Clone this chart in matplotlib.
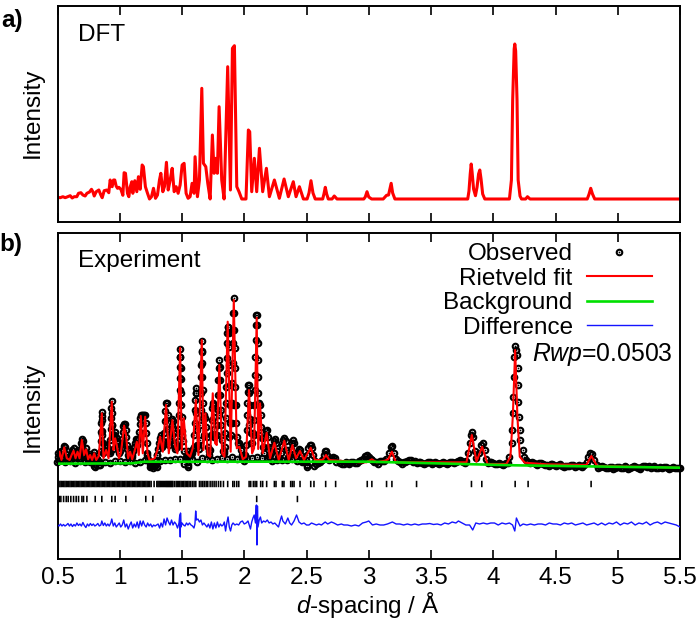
import numpy as np
import matplotlib
matplotlib.use("Agg")
import matplotlib.pyplot as plt
from matplotlib.legend_handler import HandlerTuple

plt.rcParams["font.family"] = ["Liberation Sans", "DejaVu Sans"]
plt.rcParams["mathtext.fontset"] = "custom"
plt.rcParams["mathtext.rm"] = "Liberation Sans"
plt.rcParams["mathtext.it"] = "Liberation Sans:italic"

tick_pos = [0.5, 1, 1.5, 2, 2.5, 3, 3.5, 4, 4.5, 5, 5.5]
tick_labels = ["0.5", "1", "1.5", "2", "2.5", "3", "3.5", "4", "4.5", "5", "5.5"]

# DFT pattern, read off panel a)
dft_d = [0.500, 0.522, 0.543, 0.562, 0.581, 0.602, 0.618, 0.634, 0.655, 0.669,
         0.688, 0.704, 0.722, 0.736, 0.757, 0.773, 0.784, 0.795, 0.811, 0.832,
         0.848, 0.859, 0.875, 0.896, 0.912, 0.923, 0.939, 0.950, 0.960, 0.971,
         0.982, 0.993, 1.009, 1.025, 1.035, 1.046, 1.062, 1.073, 1.083, 1.097,
         1.105, 1.121, 1.137, 1.150, 1.164, 1.180, 1.190, 1.206, 1.223, 1.239,
         1.255, 1.271, 1.287, 1.303, 1.319, 1.330, 1.346, 1.359, 1.375, 1.389,
         1.405, 1.421, 1.437, 1.453, 1.469, 1.485, 1.501, 1.517, 1.533, 1.549,
         1.565, 1.581, 1.597, 1.605, 1.624, 1.640, 1.659, 1.672, 1.691, 1.707,
         1.726, 1.744, 1.758, 1.771, 1.784, 1.798, 1.819, 1.838, 1.867, 1.889,
         1.905, 1.921, 1.940, 1.958, 1.980, 2.014, 2.033, 2.044, 2.060, 2.081,
         2.100, 2.122, 2.148, 2.178, 2.202, 2.242, 2.282, 2.320, 2.354, 2.394,
         2.416, 2.443, 2.475, 2.505, 2.520, 2.536, 2.552, 2.570, 2.630, 2.640,
         2.651, 2.662, 2.675, 2.705, 2.723, 2.745, 2.960, 2.972, 2.986, 3.000,
         3.023, 3.116, 3.143, 3.159, 3.170, 3.180, 3.192, 3.210, 3.795, 3.805,
         3.815, 3.823, 3.830, 3.842, 3.857, 3.870, 3.882, 3.892, 3.902, 3.915,
         3.932, 4.130, 4.146, 4.156, 4.168, 4.173, 4.180, 4.191, 4.200, 4.215,
         4.227, 4.260, 4.275, 4.295, 4.755, 4.770, 4.783, 4.797, 4.815, 5.500]
dft_i = [1.7, 1.3, 2.3, 1.3, 2.3, 3.3, 1.0, 2.3, 2.3, 5.7,
         6.3, 4.0, 3.0, 5.7, 7.0, 9.7, 7.3, 3.0, 7.3, 9.0,
         4.0, 1.3, 8.3, 9.0, 6.3, 19.0, 12.3, 19.0, 19.0, 13.0,
         10.7, 11.7, 9.7, 3.7, 26.3, 25.7, 5.7, 2.3, 11.7, 17.3,
         5.7, 18.3, 7.3, 22.3, 9.7, 34.0, 32.3, 12.3, 5.7, 0.0,
         2.3, 10.7, 0.7, 4.0, 19.0, 25.7, 7.3, 12.3, 36.7, 9.0,
         19.0, 30.7, 7.3, 12.3, 5.7, 14.0, 34.0, 35.7, 5.7, 0.7,
         2.3, 15.7, 5.7, 42.3, 2.3, 19.0, 110.7, 35.7, 32.3, 15.7,
         0.0, 64.0, 25.7, 40.7, 25.7, 92.3, 19.0, 0.0, 132.3, 9.0,
         150.7, 153.3, 12.3, 7.3, 0.0, 0.0, 69.0, 67.3, 7.3, 40.7,
         7.3, 50.7, 7.3, 30.7, 2.3, 19.0, 0.7, 20.0, 2.3, 17.3,
         2.3, 12.3, 0.0, 0.0, 6.0, 18.3, 6.0, 0.0, 0.0, 5.0,
         11.7, 5.0, 0.0, 0.0, 3.0, 0.0, 0.0, 2.0, 7.3, 2.0,
         0.0, 0.0, 3.7, 4.0, 10.0, 15.7, 6.0, 0.0, 0.0, 8.0,
         25.0, 35.0, 27.0, 10.0, 3.3, 12.0, 25.0, 29.0, 20.0, 5.0,
         0.0, 0.0, 19.0, 99.0, 150.0, 155.0, 148.0, 99.0, 19.0, 3.0,
         0.0, 0.0, 2.3, 0.0, 0.0, 5.0, 10.7, 5.0, 0.0, 0.0]

# Rietveld fit, read off panel b)
fit_d = [0.500, 0.516, 0.532, 0.554, 0.575, 0.597, 0.613, 0.629, 0.645, 0.661,
         0.677, 0.696, 0.714, 0.730, 0.746, 0.762, 0.778, 0.795, 0.811, 0.832,
         0.856, 0.869, 0.891, 0.910, 0.936, 0.950, 0.963, 0.976, 0.993, 1.009,
         1.035, 1.051, 1.067, 1.083, 1.100, 1.121, 1.137, 1.153, 1.169, 1.185,
         1.204, 1.223, 1.239, 1.260, 1.281, 1.303, 1.324, 1.346, 1.372, 1.394,
         1.423, 1.445, 1.463, 1.485, 1.498, 1.514, 1.538, 1.565, 1.586, 1.611,
         1.632, 1.659, 1.672, 1.688, 1.707, 1.726, 1.747, 1.766, 1.779, 1.800,
         1.822, 1.841, 1.867, 1.891, 1.916, 1.940, 1.961, 1.988, 2.015, 2.038,
         2.063, 2.079, 2.100, 2.112, 2.127, 2.148, 2.180, 2.207, 2.242, 2.277,
         2.322, 2.357, 2.387, 2.416, 2.448, 2.480, 2.534, 2.568, 2.630, 2.657,
         2.683, 2.929, 2.983, 3.025, 3.063, 3.130, 3.156, 3.186, 3.218, 3.785,
         3.828, 3.865, 3.911, 3.954, 4.106, 4.138, 4.157, 4.176, 4.194, 4.213,
         4.253, 4.427, 4.748, 4.788, 4.834, 5.500]
fit_i = [5.0, 13.3, 5.0, 17.7, 6.7, 5.0, 10.0, 14.3, 6.7, 13.3,
         6.7, 25.0, 10.0, 15.7, 5.7, 10.0, 5.0, 11.7, 5.0, 9.0,
         51.7, 6.7, 15.0, 6.7, 63.3, 15.0, 26.7, 20.0, 6.7, 11.7,
         39.3, 30.0, 6.7, 13.3, 5.7, 15.0, 23.3, 10.0, 49.0, 11.7,
         48.3, 11.7, 5.0, 5.7, 6.7, 15.0, 28.3, 13.3, 60.0, 11.7,
         45.0, 18.3, 11.7, 117.3, 15.0, 46.7, 11.7, 8.3, 16.7, 65.0,
         10.0, 125.0, 15.0, 51.7, 10.0, 8.3, 71.7, 21.7, 20.0, 100.0,
         11.7, 8.3, 143.3, 13.3, 165.0, 16.7, 18.3, 5.7, 8.3, 75.0,
         11.7, 16.7, 147.3, 16.0, 61.7, 11.7, 32.3, 6.7, 22.3, 5.0,
         24.3, 5.0, 20.0, 6.7, 14.0, 5.0, 17.3, 5.0, 5.0, 10.0,
         5.0, 2.7, 2.7, 5.7, 2.7, 4.3, 5.7, 13.3, 2.7, 2.7,
         30.0, 3.3, 18.3, 1.0, 1.0, 8.3, 48.3, 115.0, 48.3, 8.3,
         2.3, 0.7, 0.0, 9.0, -1.0, -2.7]

# background
bg_d = [0.5, 1.1, 1.2, 3.0, 4.17, 5.5]
bg_i = [1.3, 1.7, 3.3, 3.3, -0.3, -2.7]

# observed points, split by region
obs_d_low = [0.498, 0.503, 0.507, 0.512, 0.518, 0.525, 0.532, 0.540, 0.548, 0.554,
             0.560, 0.568, 0.575, 0.585, 0.597, 0.606, 0.613, 0.620, 0.629, 0.637,
             0.645, 0.653, 0.661, 0.669, 0.677, 0.684, 0.690, 0.696, 0.702, 0.708,
             0.716, 0.724, 0.730, 0.738, 0.746, 0.754, 0.762, 0.770, 0.778, 0.786,
             0.795, 0.803, 0.811, 0.820, 0.828, 0.836, 0.844,
             0.846, 0.848, 0.850, 0.852, 0.854, 0.856, 0.858, 0.860, 0.862, 0.864,
             0.870, 0.880, 0.890, 0.900, 0.910, 0.918,
             0.920, 0.924, 0.927, 0.930, 0.933, 0.936, 0.939, 0.941, 0.943, 0.946,
             0.950, 0.957, 0.965, 0.972, 0.980, 0.988, 0.996, 1.004, 1.012, 1.018]
obs_i_low = [3, 8, 12, 4, 11, 14, 7, 6, 14, 19,
             18, 11, 7, 6, 5, 8, 12, 15, 17, 10,
             8, 12, 15, 9, 7, 14, 22, 26, 24, 15,
             9, 13, 17, 8, 5, 9, 11, 7, 5, 10,
             13, 7, 5, 6, 4, 0, 3,
             14, 24, 33, 42, 49, 53, 45, 34, 22, 12,
             14, 18, 20, 18, 14, 12,
             14, 25, 36, 47, 57, 64, 52, 40, 28, 16,
             30, 30, 33, 28, 24, 18, 12, 14, 20, 26]

obs_d_mid = [1.024, 1.030, 1.036, 1.042, 1.048, 1.054, 1.060, 1.068, 1.076, 1.084,
             1.092, 1.100, 1.108, 1.116, 1.124, 1.132, 1.140, 1.148, 1.155, 1.160,
             1.165, 1.170, 1.178, 1.186, 1.194, 1.202, 1.208, 1.212, 1.216, 1.222,
             1.230, 1.240, 1.250, 1.262, 1.275, 1.288, 1.296, 1.304, 1.312, 1.320,
             1.328, 1.336, 1.344, 1.350, 1.356, 1.362, 1.367, 1.372, 1.378, 1.384,
             1.388, 1.392, 1.398, 1.404, 1.410, 1.416, 1.421, 1.427, 1.432, 1.437,
             1.443, 1.450, 1.458, 1.465, 1.470,
             1.476, 1.478, 1.480, 1.481, 1.482, 1.483, 1.485, 1.487, 1.489, 1.490,
             1.491, 1.493, 1.496, 1.500, 1.510, 1.520, 1.530, 1.540, 1.550, 1.560,
             1.570, 1.580, 1.590,
             1.596, 1.600, 1.603, 1.605, 1.607, 1.609, 1.610, 1.613, 1.616, 1.620,
             1.625, 1.635]
obs_i_mid = [33, 39, 41, 41, 35, 28, 20, 10, 8, 15,
             12, 8, 14, 18, 22, 26, 25, 26, 33, 41,
             47, 50, 50, 50, 50, 50, 42, 32, 22, 12,
             6, 1, -1, 0, -1, 4, 10, 16, 22, 27,
             30, 22, 20, 24, 32, 44, 54, 62, 62, 50,
             36, 25, 20, 24, 32, 40, 46, 44, 32, 20,
             16, 18, 20, 24, 36,
             50, 62, 75, 87, 98, 108, 116, 108, 97, 86,
             72, 60, 48, 34, 24, 14, 8, 10, 14, 10,
             10, 14, 16,
             18, 30, 42, 55, 65, 72, 77, 72, 52, 35,
             20, 16]

obs_d_top = [1.645, 1.648, 1.650, 1.651, 1.653, 1.655, 1.657, 1.659, 1.661, 1.663,
             1.664, 1.666, 1.668, 1.672, 1.680, 1.687, 1.692, 1.698, 1.705, 1.715,
             1.728, 1.733, 1.737, 1.741, 1.745, 1.750, 1.755, 1.760, 1.768, 1.778,
             1.783, 1.787, 1.790, 1.793, 1.796, 1.799, 1.802, 1.805, 1.807, 1.810,
             1.814, 1.820, 1.828, 1.838,
             1.845, 1.849, 1.852, 1.854, 1.856, 1.858, 1.860, 1.862, 1.864, 1.867,
             1.872, 1.875, 1.878, 1.880, 1.882, 1.884, 1.887, 1.893, 1.900, 1.903,
             1.905, 1.907, 1.909, 1.911, 1.913, 1.916, 1.919, 1.921, 1.923, 1.925,
             1.927, 1.930, 1.933, 1.938, 1.948, 1.958, 1.970, 1.980, 1.990, 2.000,
             2.010, 2.018]
obs_i_top = [25, 40, 55, 72, 88, 100, 113, 124, 114, 102,
             88, 75, 62, 47, 50, 47, 38, 28, 18, 14,
             15, 30, 45, 57, 62, 60, 48, 36, 30, 30,
             40, 55, 70, 85, 97, 105, 98, 85, 70, 55,
             40, 25, 14, 14,
             18, 32, 47, 62, 78, 92, 107, 122, 132, 138,
             138, 132, 118, 100, 80, 60, 42, 30, 42, 62,
             82, 102, 122, 135, 152, 167, 152, 135, 117, 97,
             78, 60, 42, 28, 22, 22, 15, 10, 7, 7,
             10, 20]

obs_d_tail = [2.020, 2.023, 2.026, 2.029, 2.033, 2.038, 2.042, 2.045, 2.048, 2.052,
              2.058, 2.064, 2.070, 2.076, 2.080, 2.083, 2.086, 2.089, 2.092, 2.095,
              2.098, 2.102, 2.105, 2.107, 2.109, 2.111, 2.114, 2.118, 2.125, 2.131,
              2.136, 2.141, 2.147, 2.160, 2.168, 2.175, 2.182, 2.190, 2.198, 2.206,
              2.215, 2.225, 2.235, 2.243, 2.252, 2.262, 2.272, 2.282, 2.292, 2.302,
              2.312, 2.322, 2.332, 2.342, 2.352, 2.362, 2.372, 2.380, 2.388, 2.396,
              2.406, 2.416, 2.428, 2.438, 2.448, 2.458, 2.470, 2.482, 2.494, 2.506,
              2.516, 2.526, 2.536, 2.546, 2.556, 2.566, 2.580, 2.595, 2.610, 2.625,
              2.638, 2.648, 2.658, 2.668, 2.680, 2.695, 2.710, 2.725, 2.740, 2.770]
obs_i_tail = [35, 50, 62, 73, 80, 80, 72, 60, 46, 32,
              22, 22, 32, 45, 60, 75, 90, 108, 125, 140,
              150, 150, 140, 122, 105, 88, 72, 62, 60, 50,
              38, 27, 18, 18, 28, 34, 35, 28, 18, 10,
              12, 18, 24, 26, 22, 14, 8, 7, 12, 19,
              25, 27, 24, 15, 8, 9, 16, 22, 25, 22,
              12, 9, 13, 16, 15, 10, 5, 3, 5, 10,
              17, 20, 20, 17, 10, 4, 1, 2, 3, 5,
              10, 14, 14, 10, 5, 7, 8, 7, 3, 2]

obs_d_high = [2.80, 2.83, 2.86, 2.89, 2.92, 2.95, 2.97, 2.985, 3.00, 3.03,
              3.06, 3.09, 3.12, 3.14, 3.16, 3.175, 3.19, 3.205, 3.22, 3.25,
              3.28, 3.31, 3.34, 3.37, 3.40, 3.43, 3.46, 3.49, 3.52, 3.55,
              3.58, 3.61, 3.64, 3.67, 3.70, 3.73, 3.76, 3.785, 3.80, 3.81,
              3.82, 3.83, 3.84, 3.85, 3.865, 3.885, 3.90, 3.915, 3.93, 3.945,
              3.97, 4.00, 4.03, 4.06, 4.09, 4.115, 4.13,
              4.149, 4.154, 4.160, 4.160, 4.165, 4.168, 4.176, 4.181, 4.194, 4.200,
              4.197, 4.200, 4.210, 4.213, 4.218, 4.235, 4.25, 4.28, 4.31, 4.34,
              4.37, 4.40, 4.43, 4.46, 4.49, 4.52, 4.55, 4.58, 4.61, 4.64,
              4.67, 4.70, 4.73, 4.75, 4.765, 4.78, 4.795, 4.81, 4.83, 4.86,
              4.89, 4.92, 4.95, 4.98, 5.01, 5.04, 5.07, 5.10, 5.13, 5.16,
              5.19, 5.22, 5.25, 5.28, 5.31, 5.34, 5.37, 5.40, 5.43, 5.46,
              5.49, 5.50]
obs_i_high = [1, 2, 3, 2, 4, 6, 9, 10, 8, 5,
              3, 4, 4, 6, 12, 18, 19, 12, 6, 3,
              3, 4, 5, 4, 3, 2, 2, 3, 2, 2,
              2, 2, 2, 3, 3, 5, 3, 4, 12, 22,
              30, 33, 28, 14, 7, 12, 20, 22, 15, 6,
              3, 2, 1, 1, 1, 2, 8,
              22, 35, 52, 68, 88, 108, 119, 115, 110, 97,
              80, 63, 48, 35, 25, 15, 8, 3, 3, 1,
              2, 1, 0, 1, 0, 0, -1, -1, -1, 0,
              -1, -1, 0, 3, 8, 12, 11, 5, 0, -2,
              -2, -3, -2, -3, -2, -3, -2, -3, -1, -3,
              -2, -1, -1, -2, -3, -2, -2, -3, -3, -3,
              -3, -3]

# lower rows of points that fill the band between the peaks
obs_d_base = [0.56, 0.60, 0.64, 0.68, 0.72, 0.76, 0.80, 0.84, 0.88, 0.92,
              0.96, 1.00, 1.04, 1.08, 1.12, 1.16, 1.20, 1.24, 1.28, 1.32,
              1.36, 1.40, 1.44, 1.48, 1.52, 1.55, 1.58, 1.62, 1.66, 1.70,
              1.74, 1.78, 1.82, 1.86, 1.90, 1.94, 1.98, 2.02, 2.06, 2.10,
              2.14, 2.18, 2.22, 2.26, 2.30, 2.34, 2.38, 2.42, 2.46, 2.50]
obs_i_base = [3, 4, 2, 4, 3, 3, 1, 0, 3, 2,
              4, 4, 3, 4, 2, 3, 5, 3, -1, 4,
              5, 5, 6, 6, 1, 0, 6, 3, 7, 6,
              5, 6, 7, 6, 8, 6, 7, 7, 7, 8,
              7, 7, 4, 5, 5, 5, 6, 4, 3, 0]

obs_d_fill = [0.58, 0.62, 0.66, 0.70, 0.74, 0.78, 0.82, 0.86, 0.90, 0.94,
              0.98, 1.02, 1.06, 1.10, 1.14, 1.18, 1.22, 1.26, 1.30, 1.34,
              1.38, 1.42, 1.46, 1.50, 1.54, 1.58, 1.62, 1.68, 1.72, 1.76,
              1.80, 1.84, 1.88, 1.92, 1.96, 2.00, 2.04, 2.08, 2.12, 2.16,
              2.20, 0.79, 0.80, 1.24, 1.27, 1.30, 1.55, 2.50, 2.56]
obs_i_fill = [8, 12, 9, 20, 8, 7, 6, 30, 14, 40,
              22, 22, 16, 10, 20, 32, 10, 2, 10, 18,
              36, 30, 18, 30, 8, 12, 20, 30, 10, 28,
              50, 12, 28, 60, 20, 4, 40, 30, 30, 12,
              8, -1, -2, -2, -3, -2, -2, -2, -1]

obs_d_band = [2.785, 2.815, 2.845, 2.875, 2.905, 2.935, 3.015, 3.045, 3.075, 3.105,
              3.235, 3.265, 3.295, 3.325, 3.355, 3.385, 3.415, 3.445, 3.475, 3.505,
              3.535, 3.565, 3.595, 3.625, 3.655, 3.685, 3.715, 3.745, 3.775, 3.955,
              3.985, 4.015, 4.045, 4.075, 4.105, 4.265, 4.295, 4.325, 4.355, 4.385,
              4.415, 4.445, 4.475, 4.505, 4.535, 4.565, 4.595, 4.625, 4.655, 4.685,
              4.715, 4.845, 4.875, 4.905, 4.935, 4.965, 4.995, 5.025, 5.055, 5.085,
              5.115, 5.145, 5.175, 5.205, 5.235, 5.265, 5.295, 5.325, 5.355, 5.385,
              5.415, 5.445, 5.475]
obs_i_band = [1, 3, 1, 3, 2, 5, 6, 3, 1, 4,
              4, 1, 3, 5, 3, 2, 3, 1, 3, 1,
              3, 1, 3, 1, 3, 2, 4, 4, 2, 2,
              3, 1, 2, 0, 2, 5, 2, 2, 0, 2,
              0, -1, 1, -1, 1, -2, -1, 0, -2, 0,
              -2, -3, -1, -3, -2, -4, -2, -3, -1, -4,
              -2, -2, -4, -1, -2, -3, -1, -3, -3, -2,
              -4, -2, -3]

# difference curve, with its plot offset
diff_d = [0.500, 0.512, 0.524, 0.536, 0.548, 0.560, 0.572, 0.584, 0.596, 0.608,
          0.620, 0.632, 0.644, 0.656, 0.668, 0.680, 0.692, 0.704, 0.716, 0.728,
          0.740, 0.752, 0.764, 0.776, 0.788, 0.800, 0.812, 0.824, 0.836, 0.848,
          0.856, 0.868, 0.880, 0.892, 0.904, 0.916, 0.928, 0.936, 0.948, 0.960,
          0.972, 0.984, 0.996, 1.008, 1.020, 1.032, 1.044, 1.056, 1.068, 1.080,
          1.092, 1.104, 1.116, 1.128, 1.140, 1.152, 1.164, 1.176, 1.188, 1.200,
          1.212, 1.224, 1.236, 1.248, 1.260, 1.272, 1.284, 1.296, 1.308, 1.320,
          1.332, 1.344, 1.356, 1.368, 1.380, 1.392, 1.404, 1.416, 1.428, 1.440,
          1.452, 1.464, 1.476, 1.482, 1.486, 1.488, 1.492, 1.500, 1.512, 1.524,
          1.536, 1.548, 1.560, 1.572, 1.584, 1.596, 1.604, 1.610, 1.616, 1.628,
          1.640, 1.652, 1.664, 1.676, 1.688, 1.700, 1.712, 1.724, 1.736, 1.748,
          1.760, 1.772, 1.784, 1.796, 1.808, 1.820, 1.830, 1.840, 1.850, 1.860,
          1.870, 1.880, 1.890, 1.900, 1.910, 1.925, 1.940, 1.955, 1.970, 1.985,
          2.000, 2.015, 2.030, 2.040, 2.050, 2.060, 2.070, 2.080, 2.090, 2.095,
          2.098, 2.102, 2.106, 2.110, 2.120, 2.130, 2.140, 2.155, 2.170, 2.185,
          2.200, 2.215, 2.230, 2.245, 2.260, 2.275, 2.290, 2.300, 2.310, 2.330,
          2.350, 2.365, 2.380, 2.400, 2.420, 2.440, 2.460, 2.480, 2.500, 2.520,
          2.540, 2.560, 2.580, 2.600, 2.620, 2.650, 2.670, 2.700, 2.720, 2.750,
          2.780, 2.800, 2.830, 2.860, 2.890, 2.920, 2.950, 2.980, 3.000, 3.030,
          3.060, 3.090, 3.120, 3.150, 3.190, 3.220, 3.250, 3.280, 3.310, 3.340,
          3.370, 3.400, 3.430, 3.460, 3.490, 3.520, 3.550, 3.580, 3.610, 3.640,
          3.670, 3.700, 3.720, 3.750, 3.780, 3.810, 3.835, 3.860, 3.890, 3.920,
          3.950, 3.980, 4.010, 4.040, 4.070, 4.100, 4.130, 4.155, 4.173, 4.186,
          4.200, 4.215, 4.240, 4.270, 4.300, 4.330, 4.360, 4.390, 4.420, 4.450,
          4.480, 4.510, 4.540, 4.570, 4.600, 4.630, 4.660, 4.690, 4.720, 4.750,
          4.780, 4.810, 4.840, 4.870, 4.900, 4.930, 4.960, 4.990, 5.020, 5.050,
          5.080, 5.110, 5.140, 5.170, 5.200, 5.230, 5.260, 5.290, 5.320, 5.350,
          5.380, 5.410, 5.440, 5.470, 5.500]
diff_i = [-60, -61, -59, -61, -59.5, -61, -60, -58.5, -61, -59,
          -61.5, -59.5, -61, -58, -60.5, -59, -61, -57.5, -60.5, -62.5,
          -59, -61, -58.5, -60.5, -59, -61, -60, -58.5, -61, -60,
          -56, -60.5, -58, -61, -59, -61, -58, -54, -61, -58,
          -62, -60, -58, -62, -60, -55, -62, -59, -64, -60,
          -57, -63, -59, -62, -57, -63, -56, -61, -56, -60,
          -62, -58, -61, -59, -62, -60, -61, -60, -59, -63,
          -58, -62, -54, -60, -53, -57, -60, -55, -60, -57,
          -59, -63, -58, -50, -72, -48, -62, -58, -60, -61,
          -58, -60, -58, -60, -61, -63, -59, -46, -55, -54,
          -57, -55, -60, -58, -60, -62, -59, -63, -57, -64,
          -58, -63, -57, -62, -59, -61, -60, -57, -66, -58,
          -52, -62, -66, -60, -58, -60, -59, -60, -57, -56,
          -59, -58, -56, -60, -64, -57, -53, -50, -58, -41,
          -40, -80, -41, -62, -55, -52, -58, -56, -57, -55,
          -58, -57, -59, -58, -60, -62, -55, -51, -56, -59,
          -53, -58, -60, -56, -50, -57, -59, -58, -60, -60,
          -58, -59, -60, -59, -60, -57, -59, -57, -58, -60,
          -59, -60, -60, -61, -60, -61, -58, -57, -56, -60,
          -59, -60, -60, -59, -57, -59, -59, -60, -59, -60,
          -59, -60, -59, -59, -58.5, -59.5, -59, -60, -58, -59,
          -57, -58, -56, -58, -60, -60, -65, -58, -59, -58,
          -59, -58, -58, -60, -58, -59, -58, -60, -66, -53,
          -57, -61, -59, -60, -59, -60, -59, -59, -60, -58,
          -59, -59, -60, -58, -59, -58, -60, -59, -58, -60,
          -59, -58, -60, -58, -60, -58, -59, -57, -60, -58,
          -59, -57, -60, -58, -59, -57, -60, -58, -57, -59,
          -57, -58, -59, -60, -62]

# reflection markers, two phases
phase1_d = [0.50, 0.51, 0.52, 0.53, 0.54, 0.55, 0.56, 0.57, 0.58, 0.59,
            0.60, 0.61, 0.62, 0.63, 0.64, 0.65, 0.66, 0.67, 0.68, 0.69,
            0.70, 0.71, 0.72, 0.73, 0.74, 0.75, 0.76, 0.77, 0.78, 0.79,
            0.80, 0.81, 0.82, 0.83, 0.84, 0.85, 0.86, 0.87, 0.88, 0.89,
            0.90, 0.91, 0.92, 0.93, 0.94, 0.95, 0.96, 0.97, 0.98, 0.99,
            1.00, 1.01, 1.02, 1.03, 1.04, 1.05, 1.06, 1.07, 1.08, 1.09,
            1.10, 1.11, 1.12, 1.13, 1.14, 1.15, 1.16, 1.17, 1.18, 1.19,
            1.20, 1.21, 1.22, 1.23, 1.24,
            1.252, 1.276, 1.298, 1.307, 1.316, 1.325, 1.334, 1.343, 1.352, 1.361,
            1.370, 1.378, 1.386, 1.394, 1.402, 1.410, 1.418, 1.426, 1.439, 1.453,
            1.463, 1.472, 1.482, 1.493, 1.504, 1.514, 1.525, 1.536, 1.546, 1.557,
            1.570, 1.584, 1.597, 1.611, 1.640, 1.653, 1.667, 1.680, 1.694, 1.707,
            1.726, 1.742, 1.758, 1.774, 1.793, 1.811, 1.833, 1.867, 1.908, 1.921,
            1.940, 1.956, 2.039, 2.052, 2.073, 2.087, 2.100, 2.132, 2.148, 2.180,
            2.242, 2.255, 2.306, 2.319, 2.373, 2.386, 2.400, 2.448, 2.534, 2.560,
            2.654, 2.734, 2.988, 3.025, 3.143, 3.186, 3.384, 3.825, 3.908, 4.176,
            4.280, 4.786]
phase2_d = [0.500, 0.508, 0.515, 0.527, 0.549, 0.570, 0.586, 0.607, 0.629, 0.650,
            0.669, 0.696, 0.709, 0.736, 0.803, 0.856, 0.936, 0.963, 1.049, 1.209,
            1.266, 1.485, 2.100, 2.427]
phase1_row = -19
phase2_row = -34

obs_d = np.concatenate([obs_d_low, obs_d_mid, obs_d_top, obs_d_tail, obs_d_high,
                        obs_d_base, obs_d_fill, obs_d_band])
obs_i = np.concatenate([obs_i_low, obs_i_mid, obs_i_top, obs_i_tail, obs_i_high,
                        obs_i_base, obs_i_fill, obs_i_band])

W, H = 700, 622
fig = plt.figure(figsize=(W / 100, H / 100), dpi=100)
ax_a = fig.add_axes([57.5 / W, 1 - 222 / H, 622.5 / W, 216 / H])
ax_b = fig.add_axes([57.5 / W, 1 - 559 / H, 622.5 / W, 326 / H])

FS = 17.5

# panel a
ax_a.plot(dft_d, dft_i, color="#ff0000", lw=2.2, solid_joinstyle="round")
ax_a.set_ylim(-23, 193)

# panel b
ring, = ax_b.plot(obs_d, obs_i, ls="none", marker="o", ms=4.0, mfc="none", mec="black", mew=1.5,
                  zorder=1, clip_on=False)
dot, = ax_b.plot(obs_d, obs_i, ls="none", marker="o", ms=1.0, mfc="black", mec="black", mew=0.2,
                 zorder=1, clip_on=False)
fit_line, = ax_b.plot(fit_d, fit_i, color="#ff0000", lw=1.5, zorder=2)
bg_line, = ax_b.plot(bg_d, bg_i, color="#00e000", lw=1.9, zorder=3)
diff_line, = ax_b.plot(diff_d, diff_i, color="#1414ff", lw=1.0, zorder=3)
# vlines rather than markers, snapped markers leave gaps in the dense part
for row, pos in ((phase1_row, phase1_d), (phase2_row, phase2_d)):
    ticks = ax_b.vlines(pos, row - 3.2, row + 3.2, color="black", lw=1.15)
    ticks.set_snap(False)
ax_b.set_ylim(-94, 232)

for ax in (ax_a, ax_b):
    ax.set_xlim(0.5, 5.5)
    ax.set_xticks(tick_pos)
    ax.set_yticks([])
    ax.tick_params(axis="x", direction="in", top=True, length=6.7, width=1.2, labelsize=FS, pad=6)
    for spine in ax.spines.values():
        spine.set_linewidth(1.4)
ax_a.tick_params(axis="x", labelbottom=False)
ax_b.set_xticklabels(tick_labels)

ax_b.legend([(ring, dot), fit_line, bg_line, diff_line],
            ["Observed", "Rietveld fit", "Background", "Difference"],
            handler_map={tuple: HandlerTuple(ndivide=1, pad=0)},
            loc="upper right", bbox_to_anchor=((651.7 - 57.5) / 622.5, 0.968),
            fontsize=FS, frameon=False, markerfirst=False, borderpad=0, borderaxespad=0,
            labelspacing=0.1, handlelength=2.67, handletextpad=0.58)

# texts in pixel positions of the figure
def fig_text(px, py, s, **kw):
    fig.text(px / W, 1 - py / H, s, va="center", fontsize=kw.pop("fontsize", FS), **kw)

fig_text(1, 20, "a)", fontweight="bold", ha="left")
fig_text(-1, 244, "b)", fontweight="bold", ha="left")
fig_text(78, 35, "DFT")
fig_text(78, 261, "Experiment")
fig_text(33, 113, "Intensity", rotation=90, ha="center")
fig_text(33, 407, "Intensity", rotation=90, ha="center")
fig_text(532.5, 354, r"$\mathit{Rwp}$=0.0503", fontsize=17.8)
fig_text(368, 605, r"$\mathit{d}$-spacing / Å", ha="center")

plt.savefig("out.png", dpi=100)
plt.close()
